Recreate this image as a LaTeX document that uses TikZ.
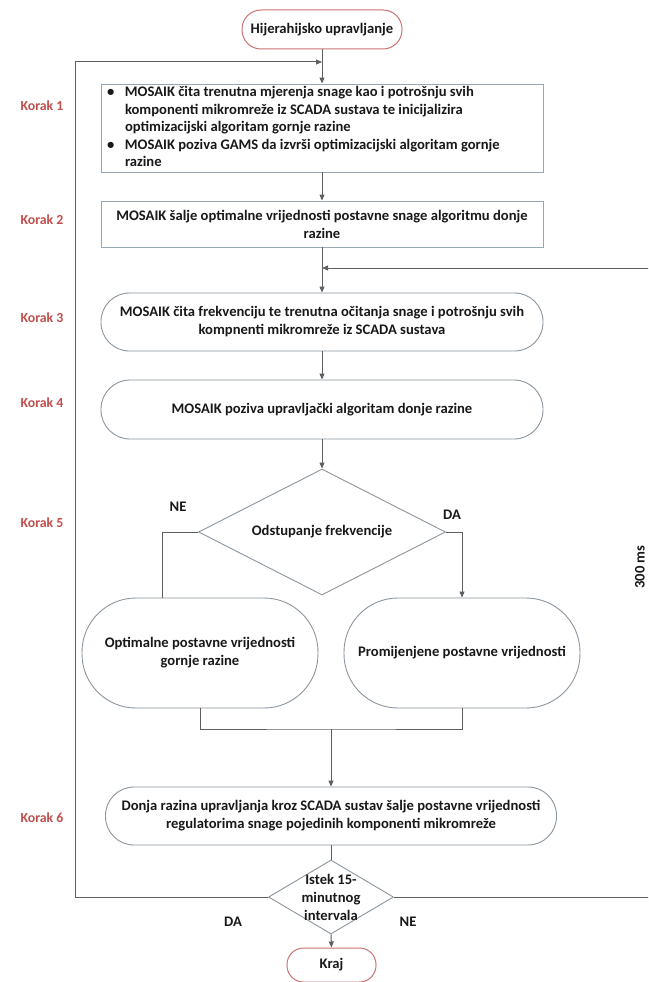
\documentclass[tikz,border=0pt]{standalone}
\usepackage{fontspec}
\setmainfont{Carlito}
\usetikzlibrary{shapes.geometric,arrows.meta}
\definecolor{korak}{HTML}{C0504D}
\definecolor{lineC}{RGB}{95,95,95}
\definecolor{boxC}{RGB}{150,168,180}
\definecolor{pillC}{RGB}{140,150,158}
\definecolor{termC}{RGB}{205,115,115}
\begin{document}
\begin{tikzpicture}[x=1pt,y=-1pt,
  txt/.style={font=\bfseries\fontsize{14.6}{18}\selectfont, text=black!90},
  rectbox/.style={draw=boxC, line width=0.9pt, rectangle, inner sep=0pt, minimum width=442pt, txt, align=center},
  pill/.style={draw=pillC, line width=0.9pt, rectangle, inner sep=0pt, txt, align=center},
  term/.style={draw=termC, line width=1pt, rectangle, inner sep=0pt, txt, align=center},
  dia/.style={draw=pillC, line width=0.9pt, diamond, inner sep=0pt, txt},
  korakL/.style={font=\bfseries\fontsize{13.8}{16}\selectfont, text=korak},
  lab/.style={txt},
  conn/.style={draw=lineC, line width=1pt},
  arr/.style={conn, -{Triangle[length=6pt,width=5pt]}},
]
\useasboundingbox (0,0) rectangle (648,982);
\clip (0,0) rectangle (648,982);
\fill[white] (0,0) rectangle (648,982);

% nodes
\node[term, minimum width=160pt, minimum height=39pt, rounded corners=19pt] (start) at (322,29.5) {Hijerahijsko upravljanje};

\node[rectbox, minimum height=88pt] (s1) at (322,128) {\fontsize{14.6}{17.5}\selectfont
\begin{tabular}{@{}p{21pt}@{}p{415pt}@{}}
\hspace{3pt}\textbullet & MOSAIK čita trenutna mjerenja snage kao i potrošnju svih\\
 & komponenti mikromreže iz SCADA sustava te inicijalizira\\
 & optimizacijski algoritam gornje razine\\
\hspace{3pt}\textbullet & MOSAIK poziva GAMS da izvrši optimizacijski algoritam gornje\\
 & razine
\end{tabular}};

\node[rectbox, minimum height=46pt] (s2) at (322,224) {MOSAIK šalje optimalne vrijednosti postavne snage algoritmu donje\\razine};

\node[pill, minimum width=442pt, minimum height=58pt, rounded corners=28.5pt] (s3) at (322,322) {MOSAIK čita frekvenciju te trenutna očitanja snage i potrošnju svih\\kompnenti mikromreže iz SCADA sustava};

\node[pill, minimum width=442pt, minimum height=59pt, rounded corners=29pt] (s4) at (322,409.5) {MOSAIK poziva upravljački algoritam donje razine};

\node[dia, minimum width=247pt, minimum height=126pt, label={[txt]center:Odstupanje frekvencije}] (d1) at (322,532) {};

\node[pill, minimum width=236pt, minimum height=110pt, rounded corners=54pt] (p1) at (200,653) {Optimalne postavne vrijednosti\\gornje razine};
\node[pill, minimum width=236pt, minimum height=110pt, rounded corners=54pt] (p2) at (462,653) {Promijenjene postavne vrijednosti};

\node[pill, minimum width=451pt, minimum height=58pt, rounded corners=28.5pt] (s6) at (331,816) {Donja razina upravljanja kroz SCADA sustav šalje postavne vrijednosti\\regulatorima snage pojedinih komponenti mikromreže};

\node[dia, minimum width=125pt, minimum height=74pt, label={[txt,align=center]center:{Istek 15-\\minutnog\\intervala}}] (d2) at (331,897) {};

\node[term, minimum width=89pt, minimum height=34pt, rounded corners=16.5pt] (kraj) at (331.5,965) {Kraj};

% step labels
\node[korakL] (k1) at (42,106) {Korak 1};
\node[korakL] (k2) at (42,220) {Korak 2};
\node[korakL] (k3) at (42,318) {Korak 3};
\node[korakL] (k4) at (42,403) {Korak 4};
\node[korakL] (k5) at (42,523) {Korak 5};
\node[korakL] (k6) at (42,818) {Korak 6};

% branch labels
\node[lab] (ne1) at (178,507) {NE};
\node[lab] (da1) at (452,515) {DA};
\node[lab] (da2) at (233,922) {DA};
\node[lab] (ne2) at (408,922) {NE};
\node[lab, rotate=90] (ms) at (640,567) {300 ms};

% helper coordinates
\coordinate (lx) at (75,0);
\coordinate (rx) at (660,0);
\coordinate (top) at (322,62);
\coordinate (fb) at (322,268);
\coordinate (neX) at (162,0);
\coordinate (m) at (331,729);

% connectors
\draw[arr] (start.south) -- (s1.north);
\draw[arr] (d2.west) -- (d2.west -| lx) -- (top -| lx) -- (top);
\draw[arr] (s1.south) -- (s2.north);
\draw[arr] (s2.south) -- (s3.north);
\draw[arr] (d2.east) -- (d2.east -| rx) -- (fb -| rx) -- (fb);
\draw[arr] (s3.south) -- (s4.north);
\draw[arr] (s4.south) -- (d1.north);
\draw[conn] (d1.west) -| (neX |- p1.north);
\draw[arr] (d1.east) -| (p2.north);
\draw[conn] (p1.south) |- (m) -| (p2.south);
\draw[arr] (m) -- (s6.north);
\draw[conn] (s6.south) -- (d2.north);
\draw[arr] (d2.south) -- (kraj.north);
\end{tikzpicture}
\end{document}
